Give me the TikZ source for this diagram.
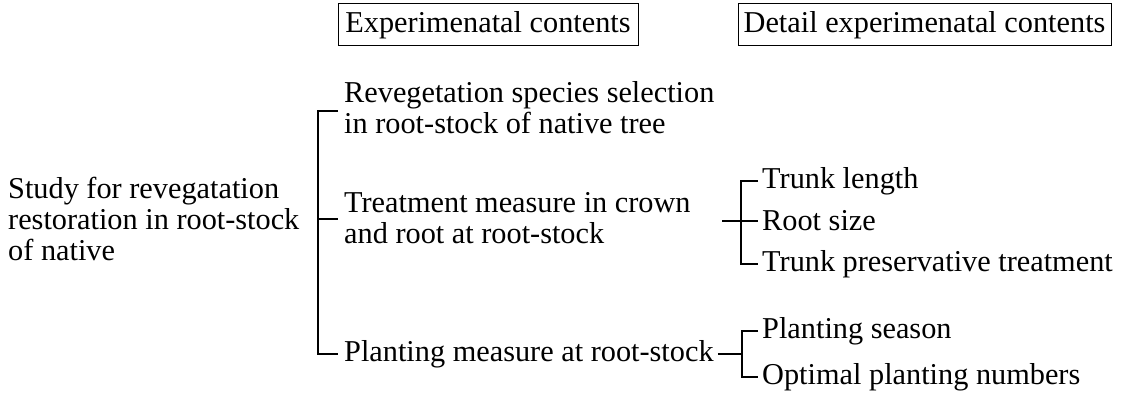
\documentclass[tikz,border=0pt]{standalone}
\usepackage{fontspec}
\setmainfont{Liberation Serif}
\begin{document}
\begin{tikzpicture}[x=1pt,y=-1pt,
  every node/.style={font=\fontsize{30.3}{31}\selectfont, inner sep=0pt},
  headbox/.style={draw, line width=1pt, minimum height=42pt},
  item/.style={anchor=west, align=left},
  brk/.style={line width=1.7pt}]
\useasboundingbox (0,0) rectangle (1133,395);
% headers
\node[headbox, minimum width=300pt] (h1) at (488,25) {Experimenatal contents};
\node[headbox, minimum width=373pt] (h2) at (924.5,25) {Detail experimenatal contents};
% root
\node[item] (study) at (8,219) {Study for revegatation\\restoration in root-stock\\of native};
% level 1
\node[item] (rev) at (344,108) {Revegetation species selection\\in root-stock of native tree};
\node[item] (treat) at (344,218) {Treatment measure in crown\\and root at root-stock};
\node[item] (plant) at (344,354) {Planting measure at root-stock};
% level 2
\node[item] (trunk) at (762,181) {Trunk length};
\node[item] (root) at (762,221) {Root size};
\node[item] (pres) at (762,264) {Trunk preservative treatment};
\node[item] (season) at (762,331) {Planting season};
\node[item] (optimal) at (762,377) {Optimal planting numbers};
% bracket 1
\coordinate (b1t) at (318,111);
\coordinate (b1m) at (318,219);
\coordinate (b1b) at (318,354);
\draw[brk] ([xshift=-6pt]rev.west |- b1t) -- (b1t) -- (b1b) -- ([xshift=-6pt]plant.west);
\draw[brk] (b1m) -- ([xshift=-6pt]treat.west |- b1m);
% bracket 2
\coordinate (b2x) at (741,221);
\coordinate (b2in) at (722,221);
\draw[brk] ([xshift=-4pt]trunk.west) -- (trunk.west -| b2x) -- (pres.west -| b2x) -- ([xshift=-4pt]pres.west);
\draw[brk] (b2in) -- ([xshift=-4pt]root.west);
% bracket 3
\coordinate (b3x) at (742,354);
\draw[brk] ([xshift=-4pt]season.west) -- (season.west -| b3x) -- (optimal.west -| b3x) -- ([xshift=-4pt]optimal.west);
\draw[brk] ([xshift=4pt]plant.east) -- (b3x);
\end{tikzpicture}
\end{document}
